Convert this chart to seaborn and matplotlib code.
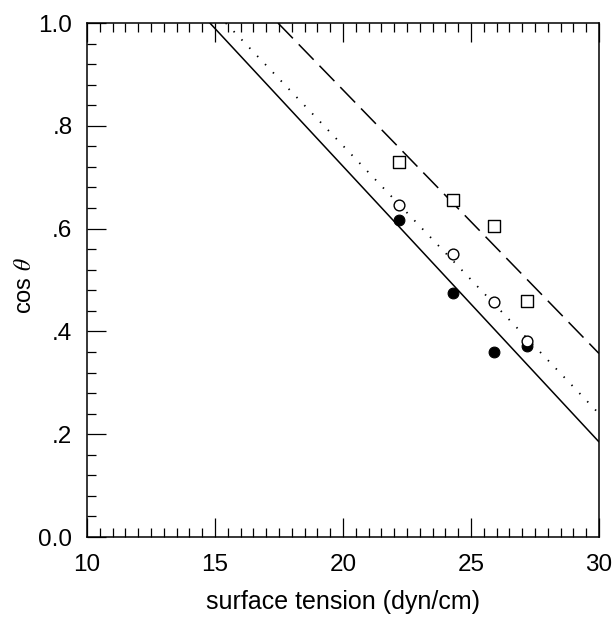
import numpy as np
import pandas as pd
import matplotlib
matplotlib.use("Agg")
import matplotlib.pyplot as plt
import seaborn as sns
from matplotlib.ticker import MultipleLocator, FixedLocator, FixedFormatter

# ---- data ----
tension = [22.2, 24.28, 25.9, 27.2]
cos_filled = [0.617, 0.475, 0.359, 0.372]
cos_open_circle = [0.645, 0.551, 0.457, 0.381]
cos_open_square = [0.730, 0.656, 0.606, 0.460]

# fitted lines (endpoints)
solid_x = [14.8, 30.0]
solid_y = [1.0, 0.185]
dotted_x = [15.42, 30.0]
dotted_y = [1.0, 0.240]
dashed_x = [17.46, 30.0]
dashed_y = [1.0, 0.357]

xticks = [10, 15, 20, 25, 30]
yticks = [0.0, 0.2, 0.4, 0.6, 0.8, 1.0]
ytick_labels = ["0.0", ".2", ".4", ".6", ".8", "1.0"]

sns.set_style("ticks")
plt.rcParams["font.family"] = ["Liberation Sans", "DejaVu Sans"]
plt.rcParams["mathtext.fontset"] = "stix"
plt.rcParams["text.color"] = "black"
plt.rcParams["axes.labelcolor"] = "black"
plt.rcParams["xtick.color"] = "black"
plt.rcParams["ytick.color"] = "black"
plt.rcParams["xtick.labelcolor"] = "black"
plt.rcParams["ytick.labelcolor"] = "black"

fig = plt.figure(figsize=(6.15, 6.18), dpi=100)
ax = fig.add_axes([87 / 615, 1 - 537 / 618, (599 - 87) / 615, (537 - 23) / 618])

sns.lineplot(x=solid_x, y=solid_y, ax=ax, color="black", lw=1.1, zorder=2)
sns.lineplot(x=dotted_x, y=dotted_y, ax=ax, color="black", lw=1.3,
             zorder=2).lines[-1].set_dashes([0.8, 5.5])
ln = sns.lineplot(x=dashed_x, y=dashed_y, ax=ax, color="black", lw=1.1, zorder=2).lines[-1]
ln.set_dashes([14, 5.5])

sns.scatterplot(x=tension, y=cos_filled, ax=ax, marker="o", s=60,
                color="black", edgecolor="black", linewidth=0.8, zorder=3)
sns.scatterplot(x=tension, y=cos_open_circle, ax=ax, marker="o", s=60,
                facecolor="white", edgecolor="black", linewidth=1.0, zorder=4)
sns.scatterplot(x=tension, y=cos_open_square, ax=ax, marker="s", s=66,
                facecolor="white", edgecolor="black", linewidth=1.0, zorder=4)

ax.set_xlim(10, 30)
ax.set_ylim(0, 1.0)
ax.xaxis.set_major_locator(FixedLocator(xticks))
ax.xaxis.set_minor_locator(MultipleLocator(0.5))
ax.yaxis.set_major_locator(FixedLocator(yticks))
ax.yaxis.set_major_formatter(FixedFormatter(ytick_labels))
ax.yaxis.set_minor_locator(MultipleLocator(0.04))

ax.tick_params(which="both", direction="in", top=True, right=False,
               bottom=True, left=True, width=0.9, color="black",
               labelcolor="black")
ax.tick_params(which="major", length=13.5, labelsize=17.5)
ax.tick_params(axis="x", which="major", pad=12)
ax.tick_params(axis="y", which="major", pad=10.5)
ax.tick_params(which="minor", length=6.8)

for sp in ax.spines.values():
    sp.set_visible(True)
    sp.set_linewidth(1.1)
    sp.set_color("black")

ax.set_xlabel("surface tension (dyn/cm)", fontsize=18, labelpad=10, color="black")
ax.set_ylabel(r"cos $\theta$", fontsize=17, color="black")
ax.yaxis.set_label_coords(-0.122, 0.49)
ax.yaxis.label.set_va("center")

fig.savefig("out.png", dpi=100)
